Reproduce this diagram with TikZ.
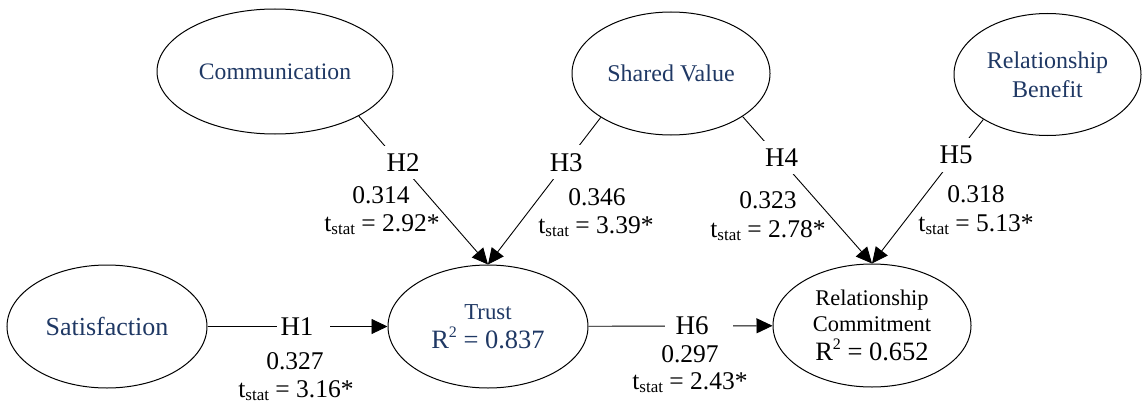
\documentclass[tikz,border=0pt]{standalone}
\usepackage{fontspec}
\setmainfont{Liberation Serif}
\usetikzlibrary{shapes.geometric,arrows.meta}
\definecolor{navy}{HTML}{1F3864}
\newcommand{\tst}[1]{t\raisebox{-3pt}{\fontsize{17}{17}\selectfont stat} = #1}
\newcommand{\rsq}[1]{R\raisebox{0.42em}{\fontsize{16}{16}\selectfont 2} = #1}
\begin{document}
\begin{tikzpicture}[x=1pt,y=-1pt,
  lv/.style={draw, ellipse, line width=1pt, inner sep=0pt, text=navy, align=center},
  hl/.style={font=\fontsize{27}{30}\selectfont, fill=white, inner sep=8pt},
  val/.style={font=\fontsize{25.5}{28}\selectfont, anchor=base, inner sep=0pt},
  con/.style={line width=0.9pt},
  arr/.style={con, -{Triangle[length=16pt,width=15pt]}}
]
\useasboundingbox (0,0) rectangle (1142,404);

% latent variables
\node[lv, minimum width=236pt, minimum height=125pt, font=\fontsize{23.6}{28}\selectfont] (comm) at (275,71.5) {Communication};
\node[lv, minimum width=198pt, minimum height=123pt, font=\fontsize{24}{28}\selectfont] (sv) at (671,73.5) {Shared Value};
\node[lv, minimum width=187pt, minimum height=122pt, font=\fontsize{24}{29}\selectfont] (rb) at (1047.5,74.5) {Relationship\\Benefit};
\node[lv, minimum width=200pt, minimum height=123pt, font=\fontsize{26}{30}\selectfont] (sat) at (107,326.5) {Satisfaction};
\node[lv, minimum width=200pt, minimum height=123pt, font=\fontsize{22.8}{29}\selectfont] (trust) at (488,326.5) {Trust\\{\fontsize{26.5}{29}\selectfont\rsq{0.837}}};
\node[lv, text=black, minimum width=198pt, minimum height=123pt, font=\fontsize{22.4}{26}\selectfont] (rc) at (872,325.5) {Relationship\\Commitment\\[3pt]{\fontsize{26.5}{29}\selectfont\rsq{0.652}}};

% horizontal paths
\node[hl, inner sep=3pt] (h1) at (297,326.5) {H1};
\draw[con] (sat) -- (h1);
\draw[arr, shorten <=13.5pt] (h1) -- (trust);

\node[hl, inner sep=3pt] (h6) at (692,326) {H6};
\draw[con, shorten >=7.5pt] (trust) -- (h6);
\draw[arr, shorten <=21.5pt] (h6) -- (rc);

% diagonal paths
\draw[arr] (comm.-28) -- node[hl, pos=0.313, xshift=4pt] (h2) {H2} (trust.north);
\draw[arr] (sv.212) -- node[hl, pos=0.306] (h3) {H3} (trust.north);
\draw[arr] (sv.-31) -- node[hl, pos=0.279, xshift=3pt] (h4) {H4} (rc.north);
\draw[arr] (rb.215) -- node[hl, pos=0.245] (h5) {H5} (rc.north);

% coefficients
\node[val] (v1) at (295,369) {0.327};
\node[val] (t1) at (296,397) {\tst{3.16*}};
\node[val] (v2) at (381,203) {0.314};
\node[val] (t2) at (382,231) {\tst{2.92*}};
\node[val] (v3) at (597,205) {0.346};
\node[val] (t3) at (596,233) {\tst{3.39*}};
\node[val] (v4) at (768,208) {0.323};
\node[val] (t4) at (768,237) {\tst{2.78*}};
\node[val] (v5) at (976,202) {0.318};
\node[val] (t5) at (976,231) {\tst{5.13*}};
\node[val] (v6) at (690,362) {0.297};
\node[val] (t6) at (690,389) {\tst{2.43*}};
\end{tikzpicture}
\end{document}
